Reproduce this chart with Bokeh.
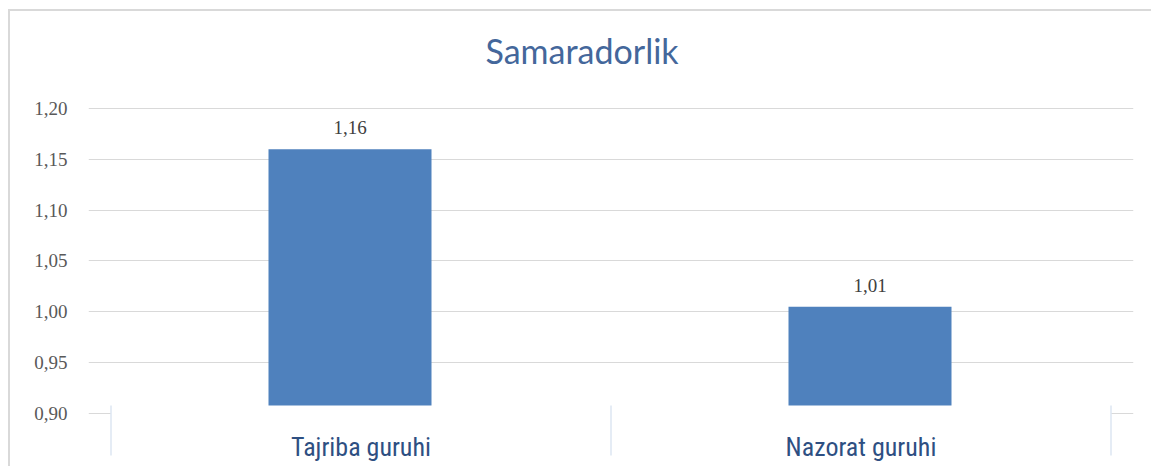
from bokeh.plotting import figure
from bokeh.models import FactorRange, Range1d, FixedTicker, ColumnDataSource, LabelSet
from bokeh.core.properties import value
from bokeh.embed import file_html
from bokeh.resources import INLINE

# ---- data ----
categories = ["Tajriba guruhi", "Nazorat guruhi"]
values = [1.16, 1.005]
value_labels = ["1,16", "1,01"]
y_ticks = [0.90, 0.95, 1.00, 1.05, 1.10, 1.15, 1.20]
y_tick_labels = ["0,90", "0,95", "1,00", "1,05", "1,10", "1,15", "1,20"]
title_text = "Samaradorlik"

# ---- style / layout constants ----
bar_offsets = [-0.022, 0.018]
bar_width = 0.326
bar_color = "#4f81bd"
cover_top = 0.9079
sep_bottom = 0.8587
cat_label_y = 0.8675

p = figure(
    width=1143, height=457,
    x_range=FactorRange(*categories, range_padding=0.045),
    y_range=Range1d(0.8459, 1.2216),
    x_axis_location=None,
    output_backend="svg", toolbar_location=None,
    min_border_left=78, min_border_right=20, min_border_top=75, min_border_bottom=0,
    background_fill_color="white", border_fill_color="white",
)
p.margin = (9, 0, 0, 8)
p.styles = {"border-top": "2px solid #d9d9d9", "border-left": "2px solid #d9d9d9"}
p.outline_line_color = None

# title
p.title.text = title_text
p.title.align = "left"
p.title.offset = 397
p.title.text_font = "Lato"
p.title.text_font_size = "34px"
p.title.text_font_style = "normal"
p.title.text_color = "#44679b"
p.title.standoff = 32

# y axis
p.yaxis.ticker = FixedTicker(ticks=y_ticks)
p.yaxis.major_label_overrides = {t: l for t, l in zip(y_ticks, y_tick_labels)}
p.yaxis.axis_line_color = None
p.yaxis.major_tick_line_color = None
p.yaxis.minor_tick_line_color = None
p.yaxis.major_tick_out = 0
p.yaxis.major_tick_in = 0
p.yaxis.major_label_standoff = 21
p.yaxis.major_label_text_font = "Liberation Serif"
p.yaxis.major_label_text_font_size = "19px"
p.yaxis.major_label_text_color = "#595959"

p.ygrid.ticker = FixedTicker(ticks=y_ticks)
p.ygrid.grid_line_color = "#d9d9d9"
p.xgrid.grid_line_color = None

# bars
bar_x = [(c, o) for c, o in zip(categories, bar_offsets)]
src = ColumnDataSource(dict(x=bar_x, top=values, lab=value_labels))
p.vbar(x="x", top="top", bottom=y_ticks[0], width=bar_width, source=src,
       fill_color=bar_color, line_color=None)

# value labels
p.add_layout(LabelSet(x="x", y="top", text="lab", source=src, y_offset=15,
                      text_align="center", text_baseline="alphabetic",
                      text_font=value("Liberation Serif"), text_font_size="19px",
                      text_color="#404040"))

# category axis band (white) with separators and labels
n = len(categories)
p.quad(left=[0], right=[n], bottom=[p.y_range.start], top=[cover_top],
       fill_color="white", line_color=None)
p.segment(x0=list(range(n + 1)), x1=list(range(n + 1)),
          y0=[cover_top] * (n + 1), y1=[sep_bottom] * (n + 1),
          line_color="#dce6f2", line_width=1.5)
p.text(x=categories, y=[cat_label_y] * n, text=categories,
       text_align="center", text_baseline="alphabetic",
       text_font=value("'Liberation Sans Narrow', 'Roboto Condensed', 'Roboto'"),
       text_font_size="26px", text_color="#2e4f82")

open("out.html", "w").write(file_html(p, INLINE))
